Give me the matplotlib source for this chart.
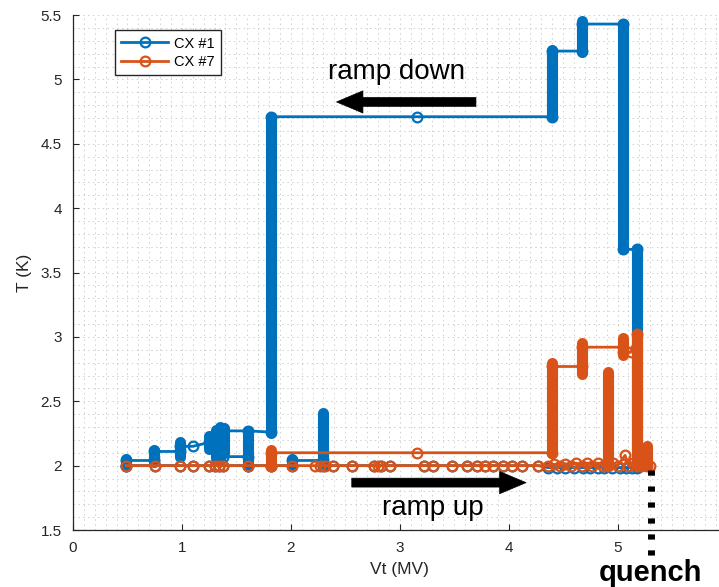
import matplotlib.pyplot as plt
import numpy as np

plt.rcParams["font.family"] = ["Liberation Sans", "DejaVu Sans"]

BLUE = "#0072BD"
ORANGE = "#D95319"

# CX #1 trace (Vt in MV, T in K); nan splits the path
cx1_vt = [0.49, 0.75, 0.98, 1.10, 1.25, 1.30, 1.34, 1.38, 1.61, 1.82, 2.01, 2.01,
          2.30, 2.30, 2.39, 2.56, 2.76, 2.83, 2.91, 3.22, 3.31, 3.48, 3.62, 3.71,
          3.78, 3.86, 3.95, 4.03, 4.12, 4.27, 4.36, 4.44, 4.52, 4.60, 4.68, 4.75,
          4.82, 4.88, 4.95, 5.02, 5.08, 5.13, 5.18, 5.18, 5.05, 5.05, 4.67, 4.67,
          4.40, 4.40, 3.16, 1.82, 1.82, 1.61, 1.38, 1.38, 1.61, 1.61, np.nan,
          1.31, 1.25, 1.10, 0.98, 0.98, 0.74, 0.74, 0.49, 0.49]
cx1_t = [2.00, 2.00, 2.00, 2.00, 2.00, 2.00, 2.00, 2.00, 2.00, 2.00, 2.00, 2.04,
         2.04, 2.00, 2.00, 2.00, 2.00, 2.00, 2.00, 2.00, 2.00, 2.00, 2.00, 2.00,
         2.00, 2.00, 2.00, 2.00, 2.00, 2.00, 1.985, 1.985, 1.985, 1.985, 1.985, 1.985,
         1.985, 1.985, 1.985, 1.985, 1.985, 1.985, 1.985, 3.68, 3.68, 5.43, 5.43, 5.22,
         5.22, 4.71, 4.71, 4.71, 2.26, 2.27, 2.27, 2.07, 2.07, 2.00, np.nan,
         2.22, 2.18, 2.15, 2.15, 2.11, 2.11, 2.04, 2.04, 2.00]

# CX #1 densely sampled stacks: Vt, T low, T high
cx1_col_vt = [0.49, 0.74, 0.98, 1.25, 1.31, 1.35, 1.39, 1.61, 1.82, 2.01, 2.30,
              4.40, 4.67, 5.05, 5.18]
cx1_col_lo = [2.00, 2.03, 2.07, 2.13, 2.06, 2.04, 2.10, 2.00, 2.25, 2.00, 2.00,
              4.71, 5.21, 3.68, 1.985]
cx1_col_hi = [2.05, 2.12, 2.18, 2.23, 2.28, 2.30, 2.29, 2.27, 4.71, 2.05, 2.41,
              5.23, 5.45, 5.43, 3.68]

# CX #7 trace
cx7_vt = [0.49, 0.75, 0.98, 1.10, 1.25, 1.30, 1.34, 1.38, 1.61, 1.82, 2.01, 2.22,
          2.27, 2.31, 2.39, 2.56, 2.76, 2.80, 2.83, 2.91, 3.22, 3.31, 3.48, 3.62,
          3.71, 3.78, 3.86, 3.95, 4.03, 4.12, 4.27, 4.36, 4.42, 4.47, 4.52, 4.57,
          4.62, 4.67, 4.72, 4.77, 4.82, 4.87, 4.91, 4.96, 5.00, 5.07, 5.10, 5.14,
          5.22, 5.27, 5.30, 5.18, 5.18, 5.12, 5.05, 5.05, 4.67, 4.67, 4.40, 4.40,
          3.16, 1.82, 1.82]
cx7_t = [2.00, 2.00, 2.00, 2.00, 2.00, 2.00, 2.00, 2.00, 2.00, 2.00, 2.00, 2.00,
         2.00, 2.00, 2.00, 2.00, 2.00, 2.00, 2.00, 2.00, 2.00, 2.00, 2.00, 2.00,
         2.00, 2.00, 2.00, 2.00, 2.00, 2.00, 2.00, 2.00, 2.01, 2.00, 2.01, 2.00,
         2.02, 2.00, 2.02, 2.00, 2.02, 2.00, 2.00, 2.02, 2.00, 2.08, 2.00, 2.02,
         2.00, 2.00, 2.00, 2.00, 3.02, 2.88, 2.88, 2.92, 2.92, 2.77, 2.77, 2.10,
         2.10, 2.10, 2.00]

cx7_col_vt = [1.82, 4.40, 4.67, 4.91, 5.05, 5.18, 5.27]
cx7_col_lo = [2.00, 2.10, 2.71, 2.00, 2.86, 2.00, 2.00]
cx7_col_hi = [2.12, 2.80, 2.95, 2.73, 2.99, 3.02, 2.15]

x_ticks = [0, 1, 2, 3, 4, 5]
y_ticks = [1.5, 2, 2.5, 3, 3.5, 4, 4.5, 5, 5.5]
y_tick_labels = ["1.5", "2", "2.5", "3", "3.5", "4", "4.5", "5", "5.5"]

fig = plt.figure(figsize=(7.19, 5.87), dpi=100)
ax = fig.add_axes([0.1015, 0.0971, 0.9088, 0.8773])

mk = dict(marker="o", mfc="none", ms=7, mew=1.6, lw=2)
ax.plot(cx1_vt, cx1_t, color=BLUE, label="CX #1", zorder=3, **mk)
for v, lo, hi in zip(cx1_col_vt, cx1_col_lo, cx1_col_hi):
    ax.plot([v, v], [lo, hi], color=BLUE, lw=8, solid_capstyle="round", zorder=3)

ax.plot(cx7_vt, cx7_t, color=ORANGE, label="CX #7", zorder=4, **mk)
for v, lo, hi in zip(cx7_col_vt, cx7_col_lo, cx7_col_hi):
    ax.plot([v, v], [lo, hi], color=ORANGE, lw=8, solid_capstyle="round", zorder=4)

ax.set_xlim(0, 6)
ax.set_ylim(1.5, 5.5)
ax.set_xticks(x_ticks)
ax.set_yticks(y_ticks)
ax.set_yticklabels(y_tick_labels)
ax.set_xticks(np.arange(0, 6.01, 0.1), minor=True)
ax.set_yticks(np.arange(1.5, 5.51, 0.1), minor=True)
ax.grid(which="both", ls=(0, (1.5, 3.5)), color="#cfcfcf", lw=0.7)
ax.set_axisbelow(True)
ax.tick_params(which="major", direction="in", length=4, width=0.8,
               colors="#262626", labelsize=11, pad=8)
ax.tick_params(which="minor", length=0)
for s in ["top", "right"]:
    ax.spines[s].set_visible(False)
for s in ["left", "bottom"]:
    ax.spines[s].set_color("#262626")
    ax.spines[s].set_linewidth(0.9)

ax.set_xlabel("Vt (MV)", fontsize=12.5, color="#262626", labelpad=5)
ax.set_ylabel("T (K)", fontsize=12.5, color="#262626", labelpad=6)

arrow = dict(arrowstyle="simple,head_length=0.95,head_width=0.8,tail_width=0.32",
             fc="black", ec="black", lw=0.5, shrinkA=0, shrinkB=0, mutation_scale=20)
ax.annotate("", xy=(2.42, 4.825), xytext=(3.70, 4.825), arrowprops=arrow, zorder=6)
ax.annotate("", xy=(4.16, 1.868), xytext=(2.56, 1.868), arrowprops=arrow, zorder=6)
ax.text(2.97, 5.005, "ramp down", fontsize=20, ha="center", va="baseline", zorder=6)
ax.text(3.30, 1.62, "ramp up", fontsize=20, ha="center", va="baseline", zorder=6)

ax.plot([5.31, 5.31], [1.965, 1.30], color="black", lw=5,
        linestyle=(0, (0.75, 1.55)), dash_capstyle="butt", clip_on=False, zorder=6)
ax.text(5.30, 1.10, "quench", fontsize=21, fontweight="bold", ha="center",
        va="baseline", clip_on=False)

ax.legend(loc="upper left", bbox_to_anchor=(0.064, 0.971), borderaxespad=0,
          fontsize=10.5, handlelength=3.2, handletextpad=0.4, labelspacing=0.3,
          borderpad=0.45, fancybox=False, framealpha=1, edgecolor="#262626")

fig.savefig("out.png", dpi=100)
